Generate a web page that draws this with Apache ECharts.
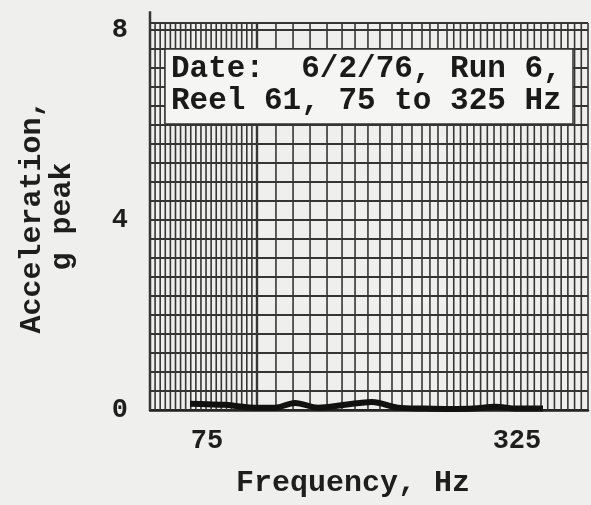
<!DOCTYPE html>
<html>
<head>
<meta charset="utf-8">
<script src="https://cdn.jsdelivr.net/npm/echarts@6/dist/echarts.min.js"></script>
<style>
html,body{margin:0;padding:0;background:#efefed;}
#main{width:591px;height:505px;}
</style>
</head>
<body>
<div id="main"></div>
<script>
// ---- data ----
const frequencyHz = [61.3, 75, 89.5, 100, 113.7, 129.8, 146.0, 164.5, 186.3, 208.1, 229.0, 250, 271.0, 290, 307.3, 325, 346.0];
const accelerationG = [0.13, 0.12, 0.11, 0.08, 0.05, 0.05, 0.15, 0.05, 0.11, 0.17, 0.05, 0.03, 0.02, 0.03, 0.07, 0.03, 0.03];
const xTickLabels = [75, 325];
const yTickLabels = [0, 4, 8];
const noteLines = ['Date:  6/2/76, Run 6,', 'Reel 61, 75 to 325 Hz'];
const xTitle = 'Frequency, Hz';
const yTitle = 'Acceleration,\ng peak';

// graph-paper frequency rulings (Hz), nonuniform as on the chart paper
const paperMin = 29.0, paperMax = 382.3, denseEnd = 115.3, rightStart = 268.6;
const middleRulings = [130.6, 144.4, 158.1, 171.8, 183.9, 194.4, 204.8, 214.5, 224.2, 232.3, 240.3, 248.4, 254.8, 261.3];
const freqRulings = [];
for (let i = 0; i <= 21; i++) freqRulings.push(paperMin + i * (denseEnd - paperMin) / 21);
middleRulings.forEach(v => freqRulings.push(v));
for (let i = 0; i <= 21; i++) freqRulings.push(rightStart + i * (paperMax - rightStart) / 21);

const yMax = 8.15;
const chart = echarts.init(document.getElementById('main'), null, {renderer: 'canvas'});
const FONT = 'Liberation Mono';

chart.setOption({
  backgroundColor: '#efefed',
  animation: false,
  grid: {left: 150, right: 3, top: 23, bottom: 95, containLabel: false},
  xAxis: {
    type: 'value', min: paperMin, max: paperMax,
    name: xTitle, nameLocation: 'middle', nameGap: 58,
    nameTextStyle: {fontFamily: FONT, fontWeight: 'bold', fontSize: 30, color: '#1e1e1e', padding: [0, 32, 0, 0]},
    axisLine: {show: true, lineStyle: {color: '#222', width: 2.5}},
    axisTick: {show: false},
    splitLine: {show: false},
    axisLabel: {
      customValues: xTickLabels, margin: 18,
      fontFamily: FONT, fontWeight: 'bold', fontSize: 27, color: '#1e1e1e'
    }
  },
  yAxis: {
    type: 'value', min: 0, max: yMax, interval: 0.4,
    name: yTitle, nameLocation: 'middle', nameGap: 73, nameRotate: 90,
    nameTextStyle: {fontFamily: FONT, fontWeight: 'bold', fontSize: 30, lineHeight: 30, color: '#1e1e1e', align: 'center'},
    axisLine: {show: false},
    axisTick: {show: false},
    splitLine: {show: true, lineStyle: {color: '#353535', width: 2}},
    axisLabel: {
      margin: 22,
      fontFamily: FONT, fontWeight: 'bold', fontSize: 27, color: '#1e1e1e',
      formatter: function (v) {
        return yTickLabels.some(t => Math.abs(t - v) < 1e-6) ? String(Math.round(v)) : '';
      }
    }
  },
  graphic: [
    {type: 'rect', z: 100, shape: {x: 165, y: 49, width: 408, height: 75},
     style: {fill: '#f5f5f3', stroke: '#333', lineWidth: 1.5}},
    {type: 'text', z: 101, x: 171, y: 53,
     style: {text: noteLines.join('\n'), font: 'bold 31px "Liberation Mono"', lineHeight: 32, fill: '#1a1a1a'}}
  ],
  series: [
    {
      type: 'custom',
      silent: true,
      clip: false,
      z: 1,
      data: freqRulings.map(v => [v]),
      encode: {x: 0},
      renderItem: function (params, api) {
        const v = api.value(0);
        const isLeft = params.dataIndex === 0;
        const isBoundary = Math.abs(v - denseEnd) < 1e-6;
        const p0 = api.coord([v, 0]);
        const p1 = api.coord([v, isLeft ? 8.4 : yMax]);
        return {
          type: 'line',
          shape: {x1: p0[0], y1: p0[1], x2: p1[0], y2: p1[1]},
          style: {stroke: '#363636', lineWidth: isLeft ? 2.5 : (isBoundary ? 2.4 : 1.6)}
        };
      }
    },
    {
      type: 'line',
      z: 5,
      data: frequencyHz.map((f, i) => [f, accelerationG[i]]),
      symbol: 'none',
      smooth: 0.35,
      lineStyle: {color: '#111', width: 6, cap: 'butt'}
    }
  ]
});
</script>
</body>
</html>
